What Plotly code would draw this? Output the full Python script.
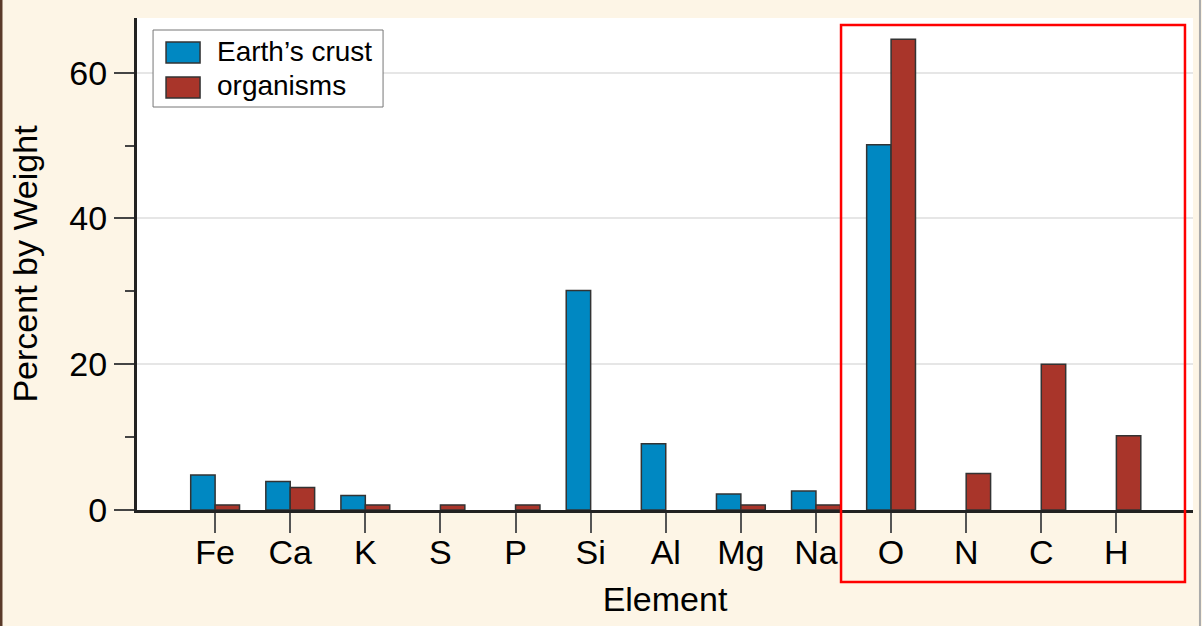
import plotly.graph_objects as go

# data (None = no bar)
elements = ["Fe", "Ca", "K", "S", "P", "Si", "Al", "Mg", "Na", "O", "N", "C", "H"]
earth_crust = [4.8, 3.9, 2.0, None, None, 30.1, 9.1, 2.2, 2.6, 50.1, None, None, None]
organisms = [0.7, 3.1, 0.7, 0.7, 0.7, None, None, 0.7, 0.7, 64.6, 5.0, 20.0, 10.2]
series_names = ["Earth\u2019s crust", "organisms"]

blue = "#0088c2"
red = "#a9352a"
cream = "#fdf5e6"
outline = "#333333"

fig = go.Figure()
fig.add_trace(go.Bar(x=elements, y=earth_crust, name=series_names[0],
                     marker=dict(color=blue, line=dict(color=outline, width=1.5))))
fig.add_trace(go.Bar(x=elements, y=organisms, name=series_names[1],
                     marker=dict(color=red, line=dict(color=outline, width=1.5))))

fig.update_layout(
    width=1202, height=626,
    margin=dict(l=137, r=9, t=18, b=116),
    paper_bgcolor=cream, plot_bgcolor="white",
    barmode="group", bargap=0.35, bargroupgap=0,
    font=dict(family="Liberation Sans, Arial, sans-serif", size=34, color="black"),
    showlegend=False,
)

fig.update_xaxes(
    type="category", range=[-1.04, 13.02],
    showline=True, linecolor="#222222", linewidth=3,
    ticks="outside", ticklen=20, tickcolor="#555555", tickwidth=1.5,
    ticklabelstandoff=-10,
    showgrid=False, zeroline=False,
    title=dict(text="Element", standoff=18, font=dict(size=34)),
)
fig.update_yaxes(
    range=[0, 67.5], dtick=20,
    showline=True, linecolor="#222222", linewidth=3,
    ticks="outside", ticklen=20, tickcolor="#444444", tickwidth=1.5,
    minor=dict(dtick=10, ticks="outside", ticklen=9, tickcolor="#444444", tickwidth=1.5, showgrid=False),
    showgrid=True, gridcolor="#e6e6e6", gridwidth=1.5,
    zeroline=False,
    title=dict(text="Percent by Weight", standoff=22, font=dict(size=34)),
)

# legend drawn by hand so the swatches are the wide boxes of the original
fig.add_shape(type="rect", xref="paper", yref="paper",
              x0=0.0152, x1=0.2330, y0=0.8191, y1=0.9756,
              line=dict(color="#777777", width=1), fillcolor="white", layer="above")
swatch_y = [(0.9085, 0.9512), (0.8374, 0.8801)]
text_y = [0.9309, 0.8618]
for name, col, (y0, y1), ty in zip(series_names, [blue, red], swatch_y, text_y):
    fig.add_shape(type="rect", xref="paper", yref="paper",
                  x0=0.0275, x1=0.0597, y0=y0, y1=y1,
                  line=dict(color=outline, width=1.5), fillcolor=col, layer="above")
    fig.add_annotation(xref="paper", yref="paper", x=0.0739, y=ty,
                       xanchor="left", yanchor="middle", showarrow=False,
                       text=name, font=dict(size=28))

# red highlight box round O, N, C, H
fig.add_shape(type="rect", xref="paper", yref="paper",
              x0=0.6667, x1=0.9924, y0=-0.1463, y1=0.9858,
              line=dict(color="#ff0000", width=2.5), fillcolor="rgba(0,0,0,0)")

# thin frame lines at the picture edges
fig.add_shape(type="line", xref="paper", yref="paper",
              x0=-0.1288, x1=-0.1288, y0=-0.24, y1=1.04,
              line=dict(color="#5a3a2a", width=3))
fig.add_shape(type="line", xref="paper", yref="paper",
              x0=1.0066, x1=1.0066, y0=-0.24, y1=1.04,
              line=dict(color="#aaaaaa", width=2))

fig.write_html("out.html", config={"displayModeBar": False},
               post_script="document.body.style.margin='0';")
